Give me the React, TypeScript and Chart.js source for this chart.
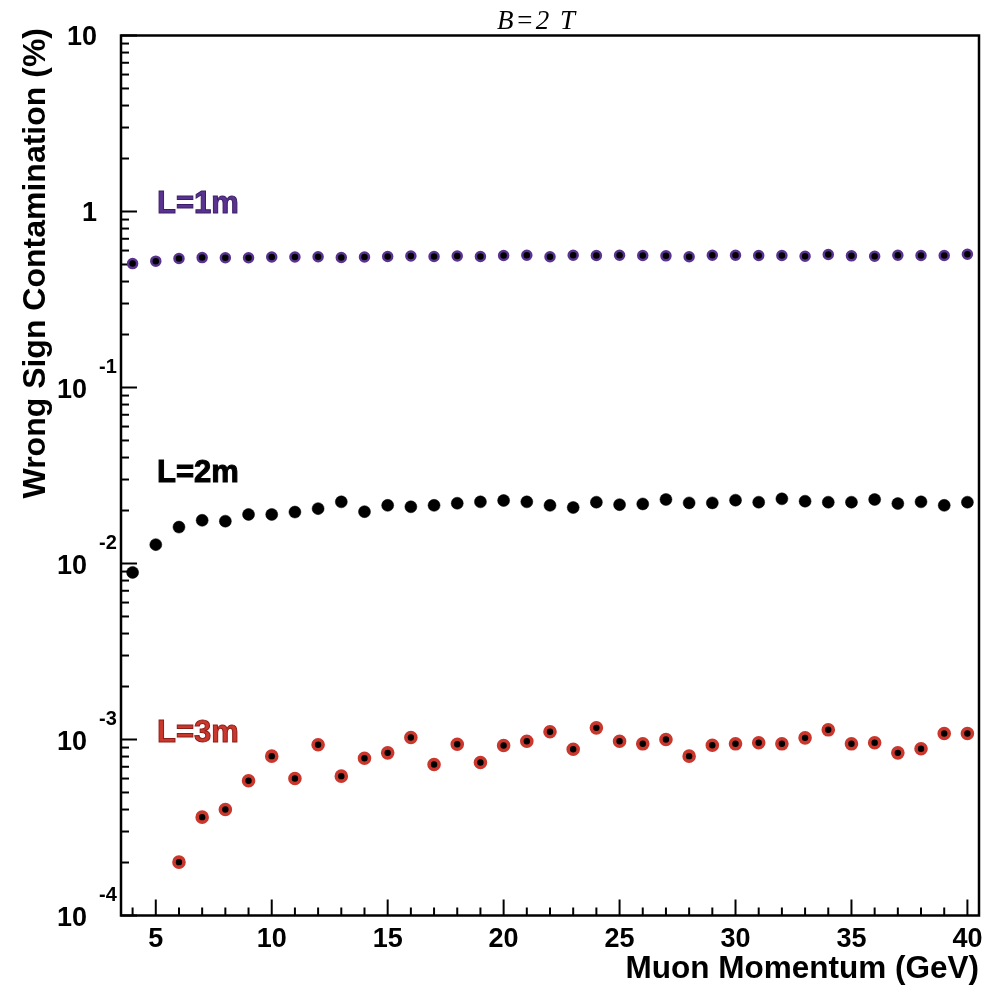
import React, { useEffect, useRef } from "react";
import { Chart, registerables } from "chart.js";

Chart.register(...registerables);

// ---------------- data ----------------
const momenta = [
  4, 5, 6, 7, 8, 9, 10, 11, 12, 13, 14, 15, 16, 17, 18, 19, 20, 21, 22, 23, 24,
  25, 26, 27, 28, 29, 30, 31, 32, 33, 34, 35, 36, 37, 38, 39, 40,
];

// Wrong-sign contamination (%) for L = 1 m
const contaminationL1 = [
  0.506, 0.522, 0.541, 0.547, 0.546, 0.546, 0.551, 0.551, 0.553, 0.548, 0.551,
  0.555, 0.559, 0.555, 0.559, 0.555, 0.562, 0.564, 0.553, 0.564, 0.562, 0.564,
  0.562, 0.56, 0.553, 0.564, 0.564, 0.562, 0.562, 0.557, 0.57, 0.56, 0.557,
  0.564, 0.562, 0.562, 0.572,
];

// Wrong-sign contamination (%) for L = 2 m
const contaminationL2 = [
  0.0089, 0.0128, 0.0161, 0.0176, 0.0174, 0.019, 0.019, 0.0196, 0.0205, 0.0224,
  0.0197, 0.0214, 0.021, 0.0214, 0.022, 0.0224, 0.0228, 0.0224, 0.0214, 0.0208,
  0.0223, 0.0216, 0.0218, 0.0231, 0.0221, 0.0221, 0.0229, 0.0223, 0.0233,
  0.0226, 0.0223, 0.0223, 0.0231, 0.0219, 0.0224, 0.0214, 0.0223,
];

// Wrong-sign contamination (%) for L = 3 m (no entries at 4 and 5 GeV)
const contaminationL3 = [
  null, null, 2.01e-4, 3.62e-4, 4.0e-4, 5.83e-4, 8.04e-4, 6.0e-4, 9.33e-4,
  6.19e-4, 7.83e-4, 8.4e-4, 1.027e-3, 7.21e-4, 9.4e-4, 7.4e-4, 9.24e-4, 9.78e-4,
  1.106e-3, 8.81e-4, 1.165e-3, 9.78e-4, 9.45e-4, 1.0e-3, 8.04e-4, 9.28e-4,
  9.45e-4, 9.58e-4, 9.45e-4, 1.022e-3, 1.135e-3, 9.45e-4, 9.58e-4, 8.4e-4,
  8.86e-4, 1.082e-3, 1.082e-3,
];

const seriesNames = ["L=1m", "L=2m", "L=3m"];
// label anchors in data units (left edge, baseline)
const seriesLabelX = [5.05, 5.05, 5.05];
const seriesLabelY = [0.977, 0.029, 9.72e-4];

const xMajorTicks = [5, 10, 15, 20, 25, 30, 35, 40];
const xMinorTicks = [
  4, 6, 7, 8, 9, 11, 12, 13, 14, 16, 17, 18, 19, 21, 22, 23, 24, 26, 27, 28, 29,
  31, 32, 33, 34, 36, 37, 38, 39,
];
const yDecadeExponents = [-4, -3, -2, -1, 0, 1];

const plotTitle = "B=2 T";
const xAxisTitle = "Muon Momentum (GeV)";
const yAxisTitle = "Wrong Sign Contamination (%)";

// ---------------- styles ----------------
const PURPLE = "#5a3390";
const PURPLE_DARK = "#3a1d66";
const RED = "#c9372d";
const RED_DARK = "#8c1c15";
const SANS = '"Liberation Sans", Arial, Helvetica, sans-serif';
const SERIF = '"Liberation Serif", "Times New Roman", serif';

function toPoints(values: (number | null)[]) {
  const pts: { x: number; y: number }[] = [];
  values.forEach((v, i) => {
    if (v !== null) pts.push({ x: momenta[i], y: v });
  });
  return pts;
}

const rootStylePlugin = {
  id: "rootStyle",
  beforeDatasetsDraw(chart: any) {
    const { ctx, chartArea: a, scales } = chart;
    const xs = scales.x;
    const ys = scales.y;
    ctx.save();
    ctx.strokeStyle = "#000";
    ctx.lineWidth = 2;
    ctx.lineCap = "butt";
    const hline = (y: number, len: number) => {
      ctx.beginPath();
      ctx.moveTo(a.left, y);
      ctx.lineTo(a.left + len, y);
      ctx.stroke();
    };
    const vline = (x: number, len: number) => {
      ctx.beginPath();
      ctx.moveTo(x, a.bottom);
      ctx.lineTo(x, a.bottom - len);
      ctx.stroke();
    };
    // y ticks (log)
    yDecadeExponents.forEach((e, i) => {
      hline(ys.getPixelForValue(Math.pow(10, e)), 16);
      if (i < yDecadeExponents.length - 1) {
        for (let k = 2; k <= 9; k++) {
          hline(ys.getPixelForValue(k * Math.pow(10, e)), 8);
        }
      }
    });
    // x ticks
    xMajorTicks.forEach((m) => vline(xs.getPixelForValue(m), 16));
    xMinorTicks.forEach((m) => vline(xs.getPixelForValue(m), 8));
    // frame
    ctx.lineWidth = 2.5;
    ctx.strokeRect(a.left, a.top, a.right - a.left, a.bottom - a.top);
    ctx.restore();
  },
  afterDraw(chart: any) {
    const { ctx, chartArea: a, scales } = chart;
    const xs = scales.x;
    const ys = scales.y;
    ctx.save();
    ctx.fillStyle = "#000";

    // y tick labels
    yDecadeExponents.forEach((e) => {
      const py = ys.getPixelForValue(Math.pow(10, e));
      ctx.font = `bold 27px ${SANS}`;
      ctx.textBaseline = "middle";
      ctx.textAlign = "right";
      if (e === 0) {
        ctx.fillText("1", a.left - 24, py + 2);
      } else if (e === 1) {
        ctx.fillText("10", a.left - 24, py + 2);
      } else {
        ctx.fillText("10", a.left - 34, py + 3);
        ctx.font = `bold 20px ${SANS}`;
        ctx.textAlign = "left";
        ctx.fillText(String(e), a.left - 22, py - 20);
      }
    });

    // x tick labels
    ctx.font = `bold 27px ${SANS}`;
    ctx.textAlign = "center";
    ctx.textBaseline = "middle";
    xMajorTicks.forEach((m) => {
      ctx.fillText(String(m), xs.getPixelForValue(m), a.bottom + 24);
    });

    // x axis title
    ctx.font = `bold 31.5px ${SANS}`;
    ctx.textAlign = "right";
    ctx.textBaseline = "alphabetic";
    ctx.fillText(xAxisTitle, a.right, a.bottom + 62);

    // y axis title
    ctx.font = `bold 32px ${SANS}`;
    ctx.save();
    ctx.translate(45, 28);
    ctx.rotate(-Math.PI / 2);
    ctx.textAlign = "right";
    ctx.textBaseline = "alphabetic";
    ctx.fillText(yAxisTitle, 0, 0);
    ctx.restore();

    // plot title
    ctx.font = `italic 27px ${SERIF}`;
    (ctx as any).letterSpacing = "2px";
    ctx.textAlign = "center";
    ctx.textBaseline = "alphabetic";
    ctx.fillText(plotTitle, 537, 29);
    (ctx as any).letterSpacing = "0px";

    // series labels
    const fills = [PURPLE, "#000", RED];
    const strokes = [PURPLE_DARK, "#000", RED_DARK];
    ctx.font = `bold 31px ${SANS}`;
    ctx.textAlign = "left";
    ctx.textBaseline = "alphabetic";
    seriesNames.forEach((name, i) => {
      const px = xs.getPixelForValue(seriesLabelX[i]);
      const py = ys.getPixelForValue(seriesLabelY[i]);
      ctx.fillStyle = fills[i];
      ctx.fillText(name, px, py);
      ctx.strokeStyle = strokes[i];
      ctx.lineWidth = 1;
      ctx.strokeText(name, px, py);
    });
    ctx.restore();
  },
};

export default function App() {
  const canvasRef = useRef<HTMLCanvasElement | null>(null);

  useEffect(() => {
    const canvas = canvasRef.current;
    if (!canvas) return;
    const chart = new Chart(canvas, {
      type: "scatter",
      data: {
        datasets: [
          {
            label: seriesNames[0],
            data: toPoints(contaminationL1),
            pointRadius: 4.5,
            pointBorderWidth: 2.5,
            pointBackgroundColor: "#000",
            pointBorderColor: PURPLE,
            showLine: false,
          },
          {
            label: seriesNames[1],
            data: toPoints(contaminationL2),
            pointRadius: 6,
            pointBorderWidth: 0.5,
            pointBackgroundColor: "#000",
            pointBorderColor: "#000",
            showLine: false,
          },
          {
            label: seriesNames[2],
            data: toPoints(contaminationL3),
            pointRadius: 5,
            pointBorderWidth: 3.6,
            pointBackgroundColor: "#000",
            pointBorderColor: RED,
            showLine: false,
          },
        ],
      },
      options: {
        responsive: false,
        maintainAspectRatio: false,
        animation: false,
        devicePixelRatio: 1,
        layout: { padding: { left: 121, top: 35.5, right: 23, bottom: 73.5 } },
        scales: {
          x: { type: "linear", min: 3.5, max: 40.5, display: false },
          y: { type: "logarithmic", min: 1e-4, max: 10, display: false },
        },
        plugins: {
          legend: { display: false },
          tooltip: { enabled: false },
          title: { display: false },
        },
        events: [],
      },
      plugins: [rootStylePlugin],
    });
    return () => chart.destroy();
  }, []);

  return (
    <div
      style={{
        position: "absolute",
        left: 0,
        top: 0,
        width: 1002,
        height: 989,
        background: "#fff",
      }}
    >
      <canvas
        ref={canvasRef}
        width={1002}
        height={989}
        style={{ display: "block", width: 1002, height: 989 }}
      />
    </div>
  );
}
